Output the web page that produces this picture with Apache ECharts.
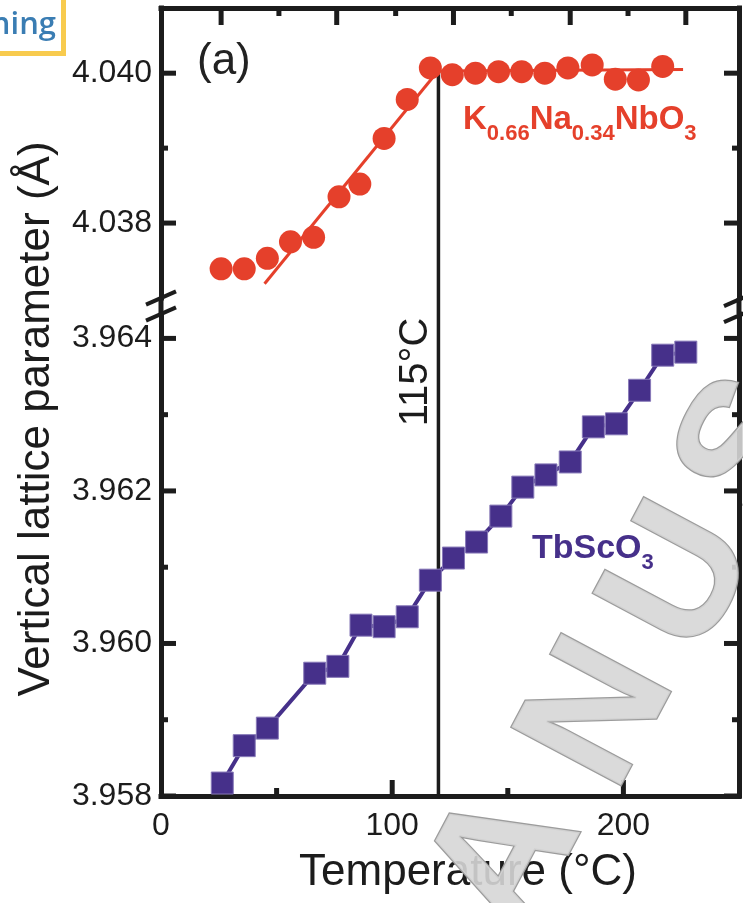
<!DOCTYPE html>
<html>
<head>
<meta charset="utf-8">
<script src="https://cdn.jsdelivr.net/npm/echarts@6/dist/echarts.min.js"></script>
<style>html,body{margin:0;padding:0;background:#fff}#c{width:743px;height:903px}</style>
</head>
<body>
<div id="c"></div>
<script>
// ---------- data ----------
const tempsKNN   = [26, 36, 46, 56, 66, 77, 86, 96.5, 106.5, 116.5, 126, 136, 146, 156, 166, 176, 186.5, 196.5, 206.5, 217];
const latticeKNN = [4.03739, 4.03739, 4.03753, 4.03775, 4.03781, 4.03835, 4.03852, 4.03913, 4.03965, 4.04007,
                    4.03998, 4.04000, 4.04002, 4.04002, 4.04000, 4.04007, 4.04011, 4.03992, 4.03991, 4.04009];
const tempsTSO   = [26.5, 36, 46, 66.5, 76.5, 86.5, 96.5, 106.5, 116.5, 126.5, 136.5, 147, 156.5, 166.5, 177, 187, 197, 207, 217, 227];
const latticeTSO = [3.95817, 3.95866, 3.95889, 3.95961, 3.95970, 3.96024, 3.96022, 3.96035, 3.96083, 3.96112,
                    3.96133, 3.96167, 3.96205, 3.96221, 3.96238, 3.96284, 3.96288, 3.96332, 3.96378, 3.96382];
const fitLowT  = [44.8, 119.8];
const fitLowV  = [4.03719, 4.04003];
const fitHighT = [119.8, 225.8];
const fitHighV = [4.04003, 4.04005];
const transitionT = 120;

const xRange = [0, 250];
const upperRange = [4.037, 4.04087];
const lowerRange = [3.958, 3.96432];
const xLabelValues   = [0, 100, 200];
const xMajorTicks    = [100, 200];
const xMinorTicks    = [50, 150];
const xTopMajorTicks = [26, 76, 126.5, 177, 227];
const xTopMinorTicks = [51, 101.5, 151.5, 202];
const upperLabels     = [4.038, 4.040];
const upperMinorTicks = [4.039];
const lowerLabels     = [3.958, 3.960, 3.962, 3.964];
const lowerMinorTicks = [3.959, 3.961, 3.963];

// ---------- style ----------
const RED = '#e5402b', PURPLE = '#46308a', INK = '#1c1c1c';
const FONT = '"Liberation Sans", Arial, sans-serif';
const AXW = 5, MAJ = 15, MIN = 7;

const chart = echarts.init(document.getElementById('c'), null, {renderer: 'canvas'});

function xAx(grid, pos, labels) {
  return {
    type: 'value', gridIndex: grid, position: pos, min: xRange[0], max: xRange[1],
    axisLine: {show: true, onZero: false, lineStyle: {color: INK, width: AXW, cap: 'square'}},
    axisTick: {show: false},
    axisLabel: labels ? {show: true, customValues: labels, fontSize: 32, fontFamily: FONT, color: INK, margin: 14} : {show: false},
    splitLine: {show: false}
  };
}
function yAx(grid, pos, range, labels) {
  return {
    type: 'value', gridIndex: grid, position: pos, min: range[0], max: range[1],
    axisLine: {show: true, onZero: false, lineStyle: {color: INK, width: AXW, cap: 'square'}},
    axisTick: {show: false},
    axisLabel: labels ? {show: true, customValues: labels, formatter: v => v.toFixed(3), fontSize: 32, fontFamily: FONT, color: INK, margin: 9} : {show: false},
    splitLine: {show: false}
  };
}
const zip = (a, b) => a.map((v, i) => [v, b[i]]);

// tick marks as a custom series: item = [x, y, dxPx, dyPx]
function tickItems(yMajor, yMinor, xMajor, xMinor, xEdgeVal, xDir, xLen) {
  const items = [];
  yMajor.forEach(v => { items.push([xRange[0], v, MAJ, 0]); items.push([xRange[1], v, -MAJ, 0]); });
  yMinor.forEach(v => { items.push([xRange[0], v, MIN, 0]); items.push([xRange[1], v, -MIN, 0]); });
  xMajor.forEach(v => items.push([v, xEdgeVal, 0, xDir * xLen[0]]));
  xMinor.forEach(v => items.push([v, xEdgeVal, 0, xDir * xLen[1]]));
  return items;
}
function renderTick(params, api) {
  const p = api.coord([api.value(0), api.value(1)]);
  const dx = api.value(2), dy = api.value(3);
  const w = AXW;
  const shape = dy === 0
    ? {x: Math.min(p[0], p[0] + dx), y: p[1] - w / 2, width: Math.abs(dx), height: w}
    : {x: p[0] - w / 2, y: Math.min(p[1], p[1] + dy), width: w, height: Math.abs(dy)};
  return {type: 'rect', shape: shape, style: {fill: INK}};
}

const option = {
  animation: false,
  backgroundColor: '#fff',
  grid: [
    {left: 161, right: 4, top: 8, height: 290, outerBoundsMode: 'none', containLabel: false},
    {left: 161, right: 4, top: 314, height: 482, outerBoundsMode: 'none', containLabel: false}
  ],
  xAxis: [
    xAx(0, 'top', null),
    xAx(1, 'bottom', xLabelValues)
  ],
  yAxis: [
    yAx(0, 'left', upperRange, upperLabels),
    yAx(0, 'right', upperRange, null),
    yAx(1, 'left', lowerRange, lowerLabels),
    yAx(1, 'right', lowerRange, null)
  ],
  series: [
    {type: 'line', xAxisIndex: 0, yAxisIndex: 0, data: [[transitionT, fitLowV[1]], [transitionT, upperRange[0]]],
     symbol: 'none', lineStyle: {color: INK, width: 3.5}, z: 1, silent: true},
    {type: 'line', xAxisIndex: 1, yAxisIndex: 2, data: [[transitionT, lowerRange[1]], [transitionT, lowerRange[0]]],
     symbol: 'none', lineStyle: {color: INK, width: 3.5}, z: 1, silent: true},
    {type: 'line', xAxisIndex: 0, yAxisIndex: 0, data: zip(fitLowT, fitLowV), symbol: 'none',
     lineStyle: {color: RED, width: 3}, z: 2},
    {type: 'line', xAxisIndex: 0, yAxisIndex: 0, data: zip(fitHighT, fitHighV), symbol: 'none',
     lineStyle: {color: RED, width: 3}, z: 2},
    {type: 'scatter', xAxisIndex: 0, yAxisIndex: 0, data: zip(tempsKNN, latticeKNN), symbol: 'circle',
     symbolSize: 23, itemStyle: {color: RED, opacity: 1}, z: 3},
    {type: 'line', xAxisIndex: 1, yAxisIndex: 2, data: zip(tempsTSO, latticeTSO), symbol: 'rect',
     symbolSize: 22, showAllSymbol: true, lineStyle: {color: PURPLE, width: 4},
     itemStyle: {color: PURPLE, borderColor: '#8779b8', borderWidth: 1}, z: 3},
    {type: 'custom', xAxisIndex: 0, yAxisIndex: 0, clip: false, silent: true, z: 5,
     encode: {x: 0, y: 1},
     data: tickItems(upperLabels, upperMinorTicks, xTopMajorTicks, xTopMinorTicks, upperRange[1], 1, [17, 8]),
     renderItem: renderTick},
    {type: 'custom', xAxisIndex: 1, yAxisIndex: 2, clip: false, silent: true, z: 5,
     encode: {x: 0, y: 1},
     data: tickItems(lowerLabels, lowerMinorTicks, xMajorTicks, xMinorTicks, lowerRange[0], -1, [16, 8]),
     renderItem: renderTick}
  ]
};
chart.setOption(option);

// decorations positioned through the axes' scales
const px = (g, x, y) => chart.convertToPixel({gridIndex: g}, [x, y]);
const pUL = px(0, xRange[0], upperRange[0]);
const pUR = px(0, xRange[1], upperRange[0]);
const pLL = px(1, xRange[0], lowerRange[1]);
const pTu = px(0, transitionT, upperRange[0]);
const pTl = px(1, transitionT, lowerRange[1]);
const leftX = pUL[0], rightX = pUR[0];

function poly(pts, w) {
  return {type: 'polyline', silent: true, z: 10, shape: {points: pts}, style: {stroke: INK, lineWidth: w || AXW, fill: null}};
}
function breakMark(x, y) { return poly([[x - 15, y + 6.7], [x + 15, y - 6.7]], 4); }

const graphic = [
  poly([[leftX, pUL[1]], [leftX, pLL[1]]]),
  poly([[rightX, pUL[1]], [rightX, pLL[1]]]),
  poly([[pTu[0], pTu[1]], [pTl[0], pTl[1]]], 3.5),
  breakMark(leftX, pUL[1]), breakMark(leftX, pLL[1]),
  breakMark(rightX, pUL[1] + 1.5), breakMark(rightX, pLL[1] + 1.5),
  {type: 'text', x: 37, y: 419, rotation: Math.PI / 2, z: 10,
   style: {text: 'Vertical lattice parameter (Å)', fontSize: 44, fontFamily: FONT, fill: INK, align: 'center', verticalAlign: 'middle'}},
  {type: 'text', x: 468, y: 873, z: 10,
   style: {text: 'Temperature (°C)', fontSize: 44, fontFamily: FONT, fill: INK, align: 'center', verticalAlign: 'middle'}},
  {type: 'text', x: 197, y: 62, z: 10,
   style: {text: '(a)', fontSize: 44, fontFamily: FONT, fill: '#222', align: 'left', verticalAlign: 'middle'}},
  {type: 'text', x: 416, y: 372, rotation: Math.PI / 2, z: 10,
   style: {text: '115°C', fontSize: 40, fontFamily: FONT, fill: INK, align: 'center', verticalAlign: 'middle'}},
  {type: 'text', x: 463, y: 120, z: 10,
   style: {text: '{m|K}{s|0.66}{m|Na}{s|0.34}{m|NbO}{s|3}', align: 'left', verticalAlign: 'middle', fontFamily: FONT,
     rich: {m: {fontSize: 33, fontWeight: 'bold', fill: RED, fontFamily: FONT, lineHeight: 50},
            s: {fontSize: 22, fontWeight: 'bold', fill: RED, fontFamily: FONT, lineHeight: 24, verticalAlign: 'bottom'}}}},
  {type: 'text', x: 532, y: 548.5, z: 10,
   style: {text: '{m|TbScO}{s|3}', align: 'left', verticalAlign: 'middle', fontFamily: FONT,
     rich: {m: {fontSize: 34, fontWeight: 'bold', fill: PURPLE, fontFamily: FONT, lineHeight: 50},
            s: {fontSize: 22, fontWeight: 'bold', fill: PURPLE, fontFamily: FONT, lineHeight: 24, verticalAlign: 'bottom'}}}},
  // page overlay box at top-left
  {type: 'rect', shape: {x: -10, y: -10, width: 73.5, height: 63.5}, style: {fill: '#fff', stroke: '#f8cb4e', lineWidth: 5}, z: 20},
  {type: 'text', x: 56, y: 25, z: 21,
   style: {text: 'ning', fontSize: 31, fontWeight: 600, fontFamily: '"Open Sans", sans-serif', fill: '#3a7db3', align: 'right', verticalAlign: 'middle'}}
];
// watermark letters
const wmLetters = ['A', 'N', 'U', 'S'];
const wmPos = [[508, 862], [602, 715], [684, 580], [754, 448]];
wmLetters.forEach((ch, i) => {
  graphic.push({type: 'text', x: wmPos[i][0], y: wmPos[i][1], rotation: 62 * Math.PI / 180, z: 15, silent: true,
    style: {text: ch, fontSize: 180, fontWeight: 'bold', fontFamily: FONT, fill: 'rgba(214,214,214,0.9)', stroke: '#9c9c9c', lineWidth: 2.5,
            align: 'center', verticalAlign: 'middle'}});
});
chart.setOption({graphic: graphic});
</script>
</body>
</html>
